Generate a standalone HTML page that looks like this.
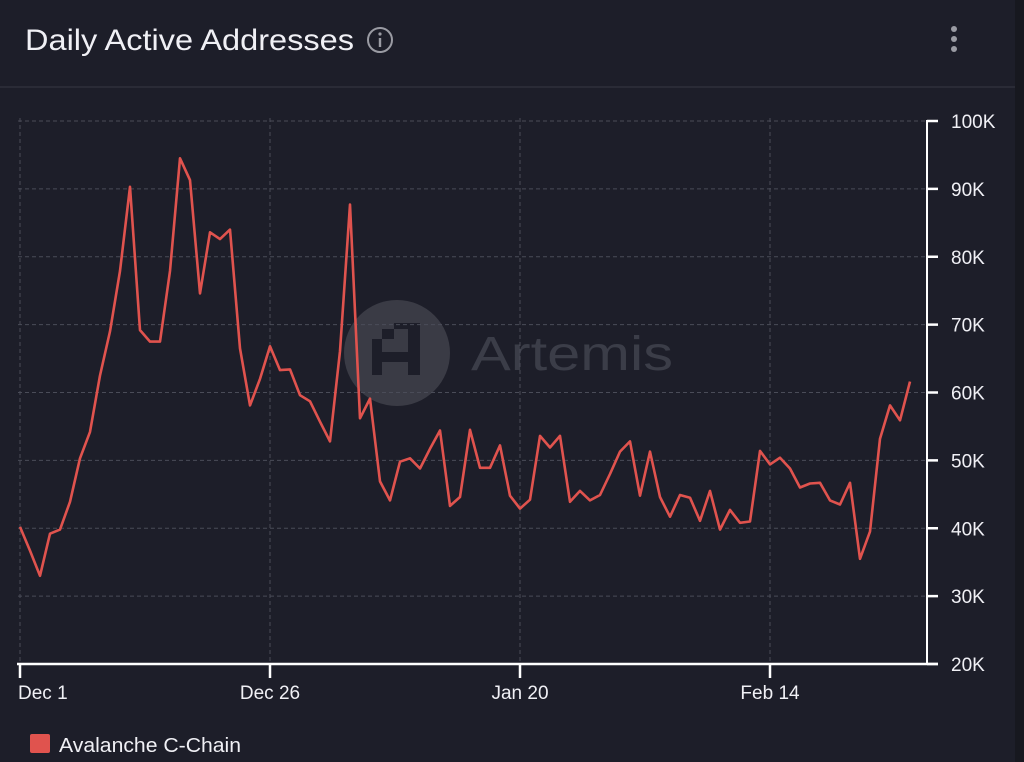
<!DOCTYPE html>
<html><head><meta charset="utf-8"><style>
html,body{margin:0;padding:0;background:#1d1e29;width:1024px;height:762px;overflow:hidden;font-family:"Liberation Sans",sans-serif}
</style></head><body>
<svg width="1024" height="762" xmlns="http://www.w3.org/2000/svg">
<rect width="1024" height="762" fill="#1d1e29"/>
<rect x="1015" y="0" width="9" height="762" fill="#17181f"/>
<text x="25" y="50" font-size="30" textLength="329" lengthAdjust="spacingAndGlyphs" fill="#f0f0f5">Daily Active Addresses</text>
<g>
<circle cx="380" cy="40" r="12" fill="none" stroke="#9a9ba3" stroke-width="2"/>
<circle cx="380" cy="34" r="1.6" fill="#9a9ba3"/>
<rect x="378.8" y="38" width="2.4" height="9" fill="#9a9ba3"/>
</g>
<g fill="#9a9ba3">
<circle cx="954" cy="29" r="3"/><circle cx="954" cy="39" r="3"/><circle cx="954" cy="49" r="3"/>
</g>
<rect x="0" y="86" width="1015" height="2" fill="#2a2b36"/>
<g>
<circle cx="397" cy="353" r="53" fill="#3a3b45"/>
<rect x="372" y="339" width="10" height="36" fill="#1d1e29"/>
<rect x="382" y="329" width="12" height="10" fill="#1d1e29"/>
<rect x="394" y="323" width="26" height="6" fill="#1d1e29"/>
<rect x="408" y="329" width="12" height="46" fill="#1d1e29"/>
<rect x="382" y="352" width="26" height="10" fill="#1d1e29"/>
<text x="471" y="370" font-size="48" textLength="202" lengthAdjust="spacingAndGlyphs" fill="#3b3d48">Artemis</text>
</g>
<g id="grid"></g>
<g id="axes"></g>
<polyline id="line" fill="none" stroke="#e0534e" stroke-width="2.6" stroke-linejoin="round"/>
<g>
<rect x="30" y="734" width="20" height="19" rx="2" fill="#e0534e"/>
<text x="59" y="752" font-size="20" textLength="182" lengthAdjust="spacingAndGlyphs" fill="#f0f0f5">Avalanche C-Chain</text>
</g>
</svg>
<script>
const values=[40.2,36.7,33,39.2,39.8,43.9,50.3,54.2,62.5,69,77.9,90.3,69.2,67.5,67.5,77.9,94.5,91.3,74.6,83.6,82.6,84,66.5,58.1,62,66.8,63.3,63.4,59.6,58.7,55.7,52.8,66.1,87.7,56.2,59.1,46.9,44.1,49.8,50.3,48.8,51.7,54.4,43.3,44.6,54.5,48.9,48.9,52.2,44.8,42.9,44.2,53.6,51.9,53.6,43.9,45.5,44.1,44.9,48,51.3,52.8,44.8,51.3,44.6,41.7,44.9,44.5,41.1,45.5,39.8,42.7,40.8,41,51.4,49.4,50.4,48.8,46,46.6,46.7,44.1,43.5,46.7,35.5,39.5,53.2,58.1,55.9,61.6];
const yTicks=[20,30,40,50,60,70,80,90,100];
const yTickLabels=["20K","30K","40K","50K","60K","70K","80K","90K","100K"];
const xTickIdx=[0,25,50,75];
const xTickLabels=["Dec 1","Dec 26","Jan 20","Feb 14"];
const NS="http://www.w3.org/2000/svg";
const X=i=>20+10*i;
const Y=v=>664-(v-20)*(543/80);
const grid=document.getElementById('grid'),axes=document.getElementById('axes');
function mk(tag,attrs,parent){const e=document.createElementNS(NS,tag);for(const k in attrs)e.setAttribute(k,attrs[k]);parent.appendChild(e);return e;}
yTicks.forEach((t,i)=>{
  const y=Y(t);
  if(i>0){const g=mk('line',{x1:18,x2:927,y1:y,y2:y,stroke:'#4a4c58','stroke-width':1,'stroke-dasharray':'4 3'},grid);
  
  }
  const tk=mk('line',{x1:927,x2:938,y1:y,y2:y,stroke:'#fff','stroke-width':2.5},axes);
  
  
  const tx=mk('text',{x:951,y:y+7,'font-size':19,fill:'#f0f0f5'},axes);
  tx.textContent=yTickLabels[i];
  
  
});
xTickIdx.forEach((d,i)=>{
  const x=X(d);
  const g=mk('line',{x1:x,x2:x,y1:118,y2:664,stroke:'#4a4c58','stroke-width':1,'stroke-dasharray':'4 3'},grid);
  
  
  const tk=mk('line',{x1:x,x2:x,y1:664,y2:678,stroke:'#fff','stroke-width':2.5},axes);
  
  
  const tx=mk('text',{x:i==0?x-2:x,y:699,'font-size':19,fill:'#f0f0f5','text-anchor':i==0?'start':'middle'},axes);
  tx.textContent=xTickLabels[i];
  
  
});
const ya=mk('line',{x1:927,x2:927,y1:120,y2:665,stroke:'#fff','stroke-width':2},axes);


const xa=mk('line',{x1:17,x2:938,y1:664,y2:664,stroke:'#fff','stroke-width':2.5},axes);


document.getElementById('line').setAttribute('points',values.map((v,i)=>X(i)+','+Y(v).toFixed(1)).join(' '));
</script>
</body></html>
